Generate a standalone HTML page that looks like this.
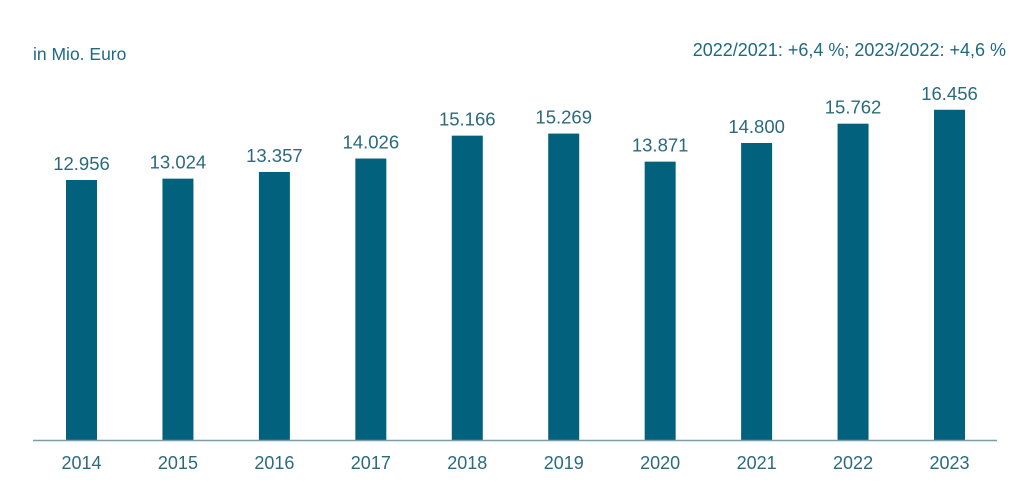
<!DOCTYPE html>
<html><head><meta charset="utf-8"><style>
body{margin:0;background:#fff;width:1024px;height:480px;overflow:hidden;font-family:"Liberation Sans",sans-serif}
text{font-family:"Liberation Sans",sans-serif}
</style></head><body>
<svg width="1024" height="480">
<text x="33" y="60" font-size="17.5" fill="#1f6a80">in Mio. Euro</text>
<text x="1006" y="56" font-size="18" fill="#1f6a80" text-anchor="end">2022/2021: +6,4 %; 2023/2022: +4,6 %</text>
<g id="bars"></g>
<line x1="33" y1="440.5" x2="997" y2="440.5" stroke="#7a9ea8" stroke-width="1.5"/>
</svg>
<script>
const categories=["2014","2015","2016","2017","2018","2019","2020","2021","2022","2023"];
const values=[12956,13024,13357,14026,15166,15269,13871,14800,15762,16456];
const valueLabels=["12.956","13.024","13.357","14.026","15.166","15.269","13.871","14.800","15.762","16.456"];
const x0=81.5,step=(949.5-81.5)/9,bw=31,base=440,k=260/12956;
const xs=i=>x0+i*step, ys=v=>base-v*k;
const g=document.getElementById('bars'),ns='http://www.w3.org/2000/svg';
categories.forEach((c,i)=>{
 const r=document.createElementNS(ns,'rect');
 
 
 r.setAttribute('x',xs(i)-bw/2);r.setAttribute('y',ys(values[i]));r.setAttribute('width',bw);r.setAttribute('height',base-ys(values[i]));r.setAttribute('fill','#02627e');g.appendChild(r);
 const t=document.createElementNS(ns,'text');
 
 
 t.setAttribute('x',xs(i));t.setAttribute('y',ys(values[i])-10);t.setAttribute('text-anchor','middle');t.setAttribute('font-size','18.5');t.setAttribute('fill','#2b6a7e');t.textContent=valueLabels[i];g.appendChild(t);
 const l=document.createElementNS(ns,'text');
 
 
 l.setAttribute('x',xs(i));l.setAttribute('y',469);l.setAttribute('text-anchor','middle');l.setAttribute('font-size','18');l.setAttribute('fill','#2b6a7e');l.textContent=c;g.appendChild(l);
});
</script>
</body></html>
